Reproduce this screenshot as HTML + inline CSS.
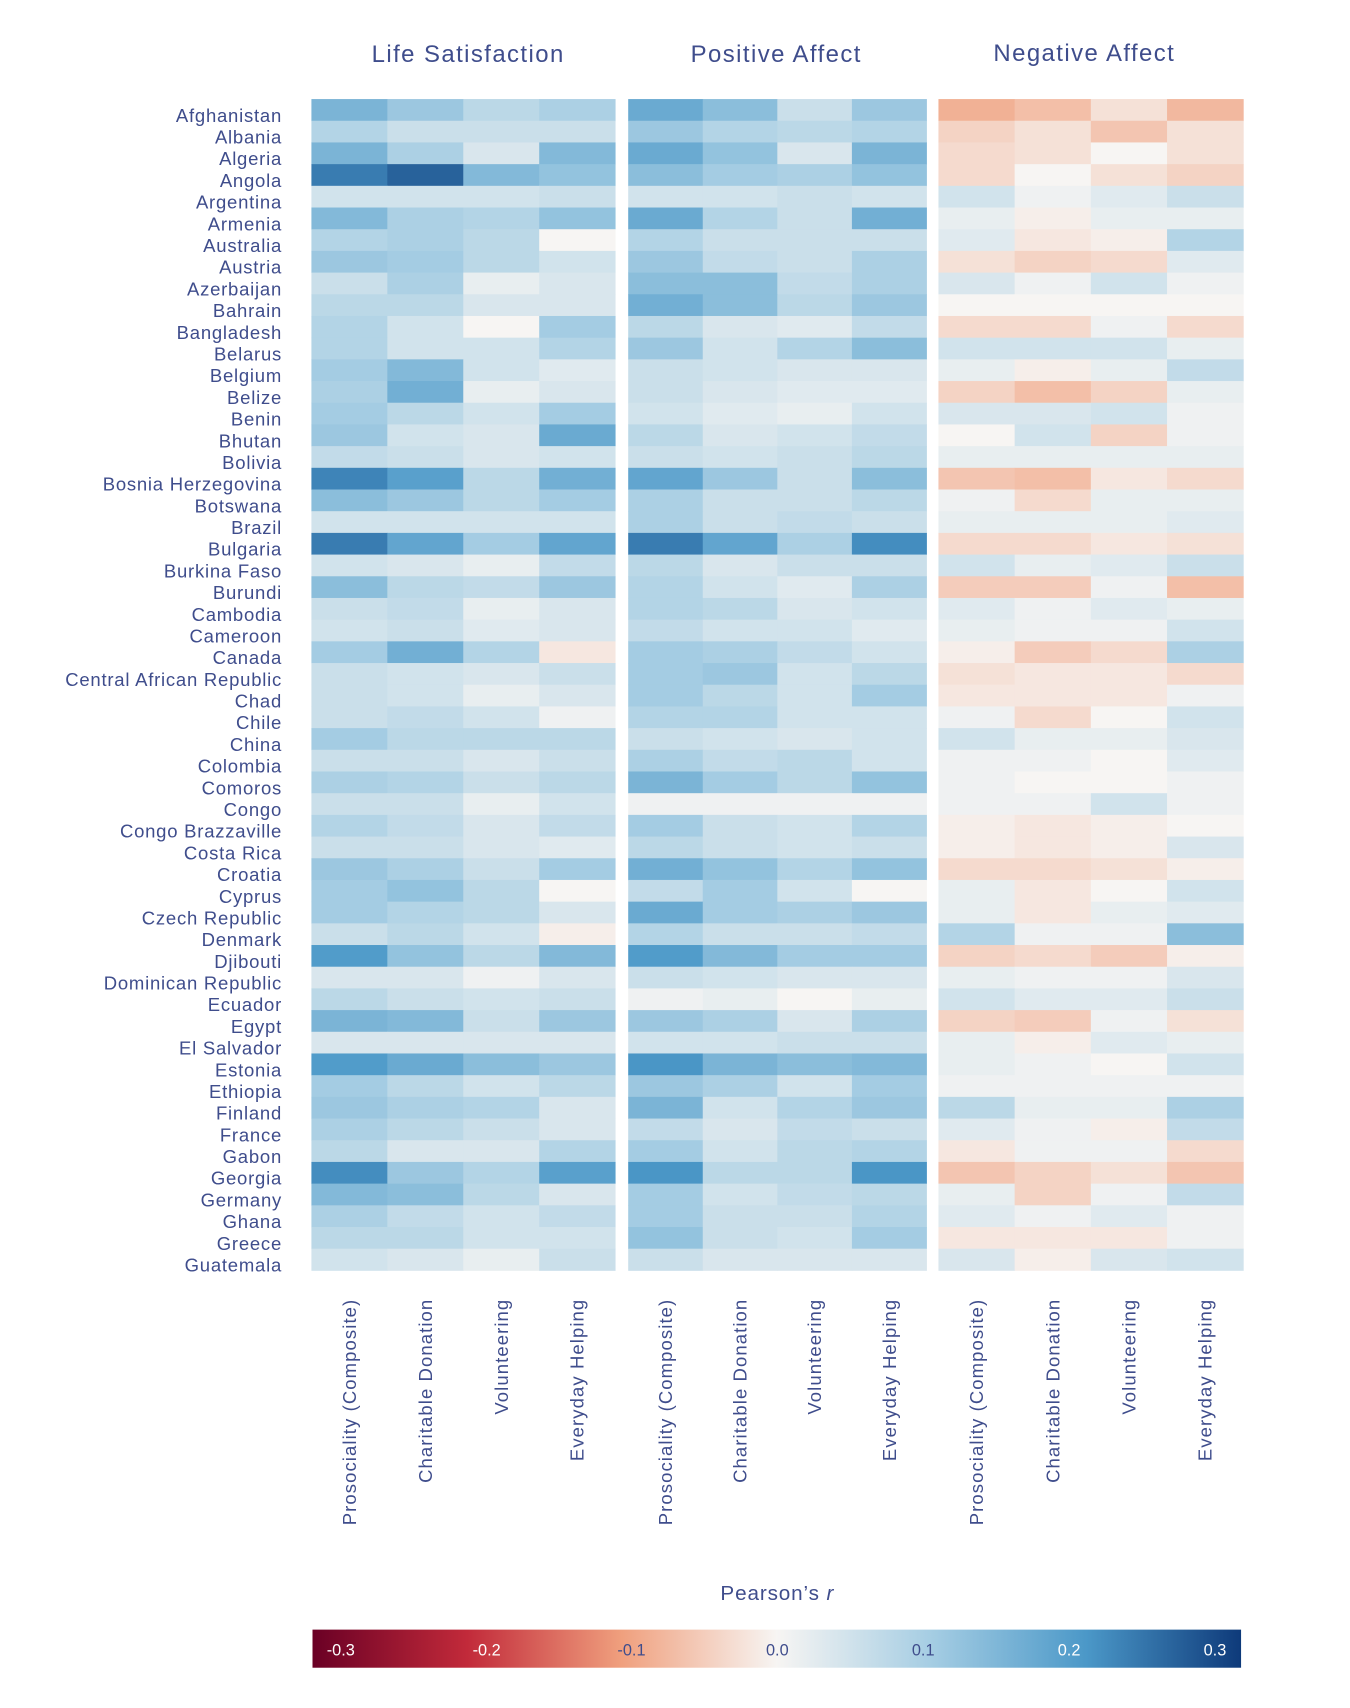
<!DOCTYPE html>
<html><head><meta charset="utf-8"><style>
html,body{margin:0;padding:0;background:#fff}
svg{display:block}
text{font-family:"Liberation Sans",sans-serif;fill:#3f4d8c}
</style></head><body>
<svg id="s" xmlns="http://www.w3.org/2000/svg" width="1350" height="1708" viewBox="0 0 1240 1569">
<defs><linearGradient id="cb" x1="0" x2="1" y1="0" y2="0">
<stop offset="0" stop-color="#6a0025"/><stop offset="0.1667" stop-color="#c22a3a"/><stop offset="0.3333" stop-color="#f0a07e"/><stop offset="0.5" stop-color="#f7f5f3"/><stop offset="0.6667" stop-color="#a5cde3"/><stop offset="0.8333" stop-color="#4b98c8"/><stop offset="1" stop-color="#0e3a7a"/></linearGradient></defs>
<g id="g"></g>
<g font-size="22" text-anchor="middle" letter-spacing="1.3">
<text x="430" y="57">Life Satisfaction</text>
<text x="713" y="57">Positive Affect</text>
<text x="996" y="56">Negative Affect</text>
</g>
<text x="714" y="1470" font-size="19" text-anchor="middle" letter-spacing="0.8">Pearson’s <tspan font-style="italic">r</tspan></text>
<rect x="287" y="1497" width="853" height="35" fill="url(#cb)"/>
<g font-size="15" text-anchor="middle">
<text x="313" y="1521" style="fill:#fff">-0.3</text>
<text x="447" y="1521" style="fill:#fff">-0.2</text>
<text x="580" y="1521">-0.1</text>
<text x="714" y="1521">0.0</text>
<text x="848" y="1521">0.1</text>
<text x="982" y="1521" style="fill:#fff">0.2</text>
<text x="1116" y="1521" style="fill:#fff">0.3</text>
</g>
</svg>
<script>
var names=["Afghanistan","Albania","Algeria","Angola","Argentina","Armenia","Australia","Austria","Azerbaijan","Bahrain","Bangladesh","Belarus","Belgium","Belize","Benin","Bhutan","Bolivia","Bosnia Herzegovina","Botswana","Brazil","Bulgaria","Burkina Faso","Burundi","Cambodia","Cameroon","Canada","Central African Republic","Chad","Chile","China","Colombia","Comoros","Congo","Congo Brazzaville","Costa Rica","Croatia","Cyprus","Czech Republic","Denmark","Djibouti","Dominican Republic","Ecuador","Egypt","El Salvador","Estonia","Ethiopia","Finland","France","Gabon","Georgia","Germany","Ghana","Greece","Guatemala"];
var D=[
[.16,.12,.08,.10,.18,.14,.06,.12,-.10,-.08,-.03,-.09],
[.09,.06,.06,.06,.12,.09,.08,.09,-.05,-.03,-.07,-.03],
[.16,.10,.04,.15,.18,.13,.04,.16,-.04,-.03,0,-.03],
[.25,.28,.15,.13,.14,.11,.10,.13,-.04,0,-.03,-.05],
[.05,.05,.05,.06,.05,.05,.06,.05,.05,.01,.03,.06],
[.15,.10,.09,.13,.18,.09,.06,.17,.02,-.01,.02,.02],
[.09,.10,.08,0,.09,.06,.06,.06,.03,-.02,-.01,.09],
[.12,.11,.08,.05,.12,.07,.06,.10,-.03,-.05,-.04,.03],
[.06,.10,.02,.04,.14,.14,.07,.10,.04,.01,.05,.01],
[.08,.08,.04,.04,.17,.14,.08,.12,0,0,0,0],
[.09,.05,0,.11,.08,.04,.03,.07,-.04,-.04,.01,-.04],
[.09,.05,.05,.09,.12,.05,.09,.14,.05,.05,.05,.02],
[.11,.15,.05,.03,.06,.05,.04,.04,.02,-.01,.02,.07],
[.10,.17,.02,.04,.06,.04,.03,.03,-.05,-.08,-.05,.02],
[.11,.08,.05,.11,.05,.03,.02,.05,.04,.04,.05,.01],
[.12,.05,.04,.18,.08,.04,.05,.07,0,.05,-.05,.01],
[.07,.06,.04,.05,.06,.05,.06,.08,.02,.02,.02,.02],
[.24,.20,.08,.17,.19,.12,.06,.14,-.07,-.08,-.02,-.04],
[.14,.12,.08,.11,.10,.06,.06,.08,.01,-.04,.02,.02],
[.05,.05,.05,.05,.10,.06,.07,.06,.02,.02,.02,.03],
[.25,.19,.11,.19,.25,.19,.10,.23,-.04,-.04,-.02,-.03],
[.05,.04,.02,.07,.08,.04,.06,.06,.05,.02,.03,.06],
[.14,.08,.07,.12,.09,.05,.03,.10,-.06,-.06,.01,-.08],
[.06,.07,.02,.04,.09,.08,.04,.05,.03,.01,.03,.02],
[.05,.06,.03,.04,.07,.05,.05,.03,.02,.01,.01,.05],
[.11,.17,.09,-.02,.11,.10,.07,.05,-.01,-.06,-.04,.10],
[.06,.05,.04,.06,.11,.12,.05,.08,-.03,-.02,-.02,-.04],
[.06,.05,.02,.04,.11,.08,.05,.11,-.02,-.02,-.02,.01],
[.06,.07,.05,.01,.09,.09,.05,.05,.01,-.04,0,.05],
[.11,.08,.08,.08,.06,.05,.04,.05,.05,.02,.02,.04],
[.06,.06,.04,.06,.10,.07,.08,.05,.01,.01,0,.03],
[.10,.09,.06,.08,.16,.11,.08,.13,.01,0,0,.01],
[.06,.06,.02,.05,.01,.01,.01,.01,.01,.01,.05,.01],
[.09,.07,.04,.07,.11,.06,.05,.09,-.01,-.02,-.01,0],
[.06,.06,.04,.03,.08,.06,.05,.06,-.01,-.02,-.01,.04],
[.12,.10,.06,.11,.17,.13,.09,.13,-.04,-.04,-.03,-.01],
[.11,.13,.08,0,.07,.11,.05,0,.02,-.02,0,.05],
[.11,.09,.08,.04,.18,.11,.10,.12,.02,-.02,.02,.03],
[.06,.08,.05,-.01,.09,.06,.06,.07,.09,.01,.01,.14],
[.21,.13,.08,.15,.21,.15,.11,.11,-.05,-.04,-.06,-.01],
[.04,.04,.01,.04,.06,.05,.04,.04,.02,.01,.01,.04],
[.08,.06,.05,.06,.01,.02,0,.02,.05,.03,.03,.06],
[.16,.15,.06,.12,.12,.10,.04,.10,-.05,-.06,.01,-.03],
[.04,.04,.04,.04,.05,.05,.06,.06,.02,-.01,.03,.02],
[.21,.18,.14,.12,.22,.16,.14,.15,.02,.01,0,.05],
[.11,.08,.05,.08,.12,.10,.05,.11,.01,.01,.01,.01],
[.12,.10,.09,.04,.16,.05,.09,.12,.08,.02,.02,.10],
[.10,.08,.06,.04,.07,.04,.07,.06,.03,.01,-.01,.07],
[.08,.04,.04,.09,.11,.05,.08,.09,-.02,.01,.01,-.04],
[.23,.12,.09,.20,.22,.08,.08,.22,-.07,-.05,-.03,-.07],
[.15,.14,.08,.04,.11,.05,.07,.08,.02,-.05,.01,.07],
[.10,.07,.05,.07,.11,.06,.06,.09,.03,.01,.03,.01],
[.08,.08,.05,.05,.13,.06,.05,.11,-.02,-.02,-.02,.01],
[.05,.04,.02,.06,.06,.04,.04,.04,.04,-.01,.04,.05]];
var st=[[-.3,[106,0,37]],[-.2,[194,42,58]],[-.1,[240,160,126]],[0,[247,245,243]],[.1,[165,205,227]],[.2,[75,152,200]],[.3,[14,58,122]]];
function col(v){v=v<0?v*0.8:v*0.92;v=Math.max(-.3,Math.min(.3,v));for(var i=0;i<6;i++){var a=st[i],b=st[i+1];if(v<=b[0]){var t=(v-a[0])/(b[0]-a[0]);return "rgb("+a[1].map(function(c,k){return Math.round(c+(b[1][k]-c)*t)}).join(",")+")";}}}
var panels=[[286,565],[577,851],[862,1142]];
var y0=91,rh=(1167-91)/54,h="";
var labs=["Prosociality (Composite)","Charitable Donation","Volunteering","Everyday Helping"];
for(var r=0;r<54;r++){var y=y0+r*rh;
 h+='<text x="259" y="'+(y+rh/2+11).toFixed(1)+'" font-size="17" letter-spacing="0.7" text-anchor="end">'+names[r]+'</text>';
 for(var p=0;p<3;p++){var x0=panels[p][0],w=(panels[p][1]-x0)/4;
  for(var c=0;c<4;c++){h+='<rect x="'+(x0+c*w).toFixed(2)+'" y="'+y.toFixed(2)+'" width="'+(w+0.4).toFixed(2)+'" height="'+(rh+0.4).toFixed(2)+'" fill="'+col(D[r][p*4+c])+'"/>';}}}
for(var p=0;p<3;p++){var x0=panels[p][0],w=(panels[p][1]-x0)/4;
 for(var c=0;c<4;c++){var cx=x0+c*w+w/2+6;
  h+='<text transform="translate('+cx.toFixed(1)+',1193) rotate(-90)" font-size="17" letter-spacing="1" text-anchor="end">'+labs[c]+'</text>';}}
document.getElementById("g").innerHTML=h;
</script>
</body></html>
